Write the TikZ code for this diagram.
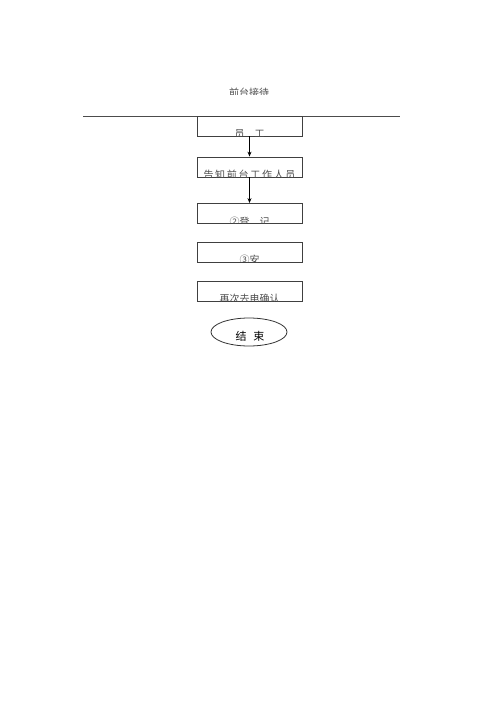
\documentclass[tikz,border=0pt]{standalone}
\usepackage{fontspec}
\setmainfont{Liberation Serif}
\newfontfamily\cjk{Noto Sans CJK SC}
\usetikzlibrary{shapes.geometric,arrows.meta}
\tikzset{
  box/.style={draw=black!75,line width=0.8pt,rectangle,minimum width=105pt,minimum height=20pt,inner sep=0pt},
  endnode/.style={draw=black!80,line width=0.8pt,ellipse,minimum width=76pt,minimum height=28pt,inner sep=0pt},
  txt/.style={anchor=base,inner sep=0pt,font=\cjk\fontsize{10}{12}\selectfont,text=black!70},
  arr/.style={line width=0.8pt,-{Stealth[length=5pt,width=4pt]}},
  rule/.style={draw=black!70,line width=0.8pt}
}
\begin{document}
\begin{tikzpicture}[x=1pt,y=-1pt]
\useasboundingbox (0,0) rectangle (500,707);
% top rule
\coordinate (L) at (83,116);
\coordinate (R) at (400,116);
\draw[rule] (L) -- (R);
% top label (clipped)
\begin{scope}
\clip (150,0) rectangle (350,94);
\node[txt] (title) at (249,96.5) {前台接待};
\end{scope}
% boxes
\node[box] (b1) at (249.5,126) {};
\node[box] (b2) at (249.5,167) {};
\node[box] (b3) at (249.5,213.5) {};
\node[box] (b4) at (249.5,252) {};
\node[box] (b5) at (249.5,291) {};
\node[endnode] (e) at (249,332) {};
\node[anchor=center,inner sep=0pt,font=\cjk\fontsize{11}{13}\selectfont] (et) at (250,336) {结\hspace{7pt}束};
% clipped texts
\begin{scope}
\clip (b1.north west) rectangle (b1.south east);
\node[txt] (t1) at ([yshift=-1.5pt]b1.south) {员　工};
\end{scope}
\begin{scope}
\clip (b2.north west) rectangle (b2.south east);
\node[txt] (t2) at ([yshift=-1.5pt]b2.south) {\addfontfeature{LetterSpace=17}告知前台工作人员};
\end{scope}
\begin{scope}
\clip (b3.north west) rectangle (b3.south east);
\node[txt] (t3) at ([yshift=-1.5pt]b3.south) {②登　记};
\end{scope}
\begin{scope}
\clip (b4.north west) rectangle (b4.south east);
\node[txt] (t4) at ([yshift=-1.5pt]b4.south) {③安};
\end{scope}
\begin{scope}
\clip (b5.north west) rectangle (b5.south east);
\node[txt] (t5) at ([yshift=-1.5pt]b5.south) {再次去电确认};
\end{scope}
% arrows
\draw[arr] (b1.south) -- (b2.north);
\draw[arr] (b2.south) -- (b3.north);
\end{tikzpicture}
\end{document}
